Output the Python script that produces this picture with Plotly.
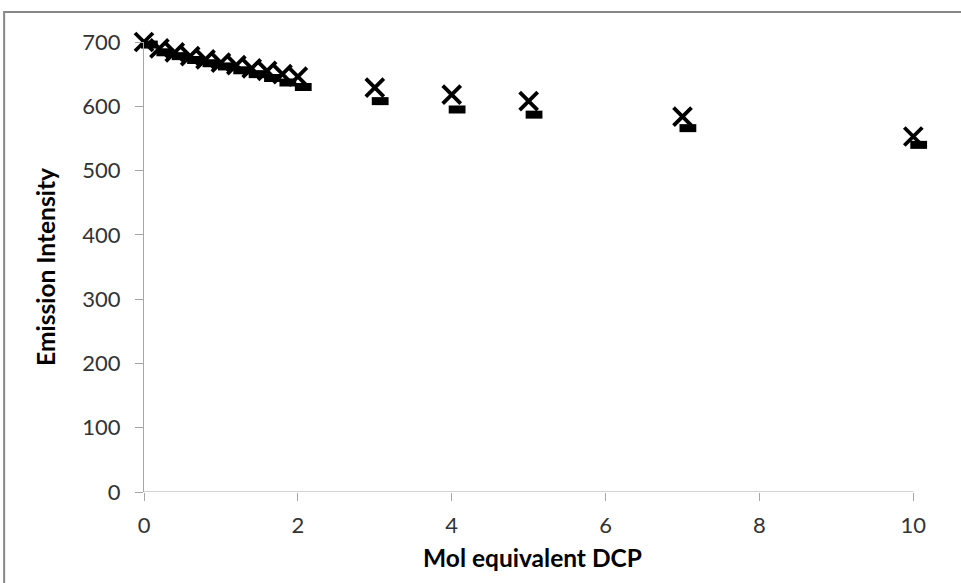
import plotly.graph_objects as go

# Titration: emission intensity vs. mol equivalents of DCP
x_cross = [0, 0.2, 0.4, 0.6, 0.8, 1.0, 1.2, 1.4, 1.6, 1.8, 2.0, 3, 4, 5, 7, 10]
y_cross = [700, 690, 684, 678, 673, 668, 664, 659, 655, 650, 646, 629, 618, 608, 584, 553]

x_dash = [0.07, 0.27, 0.47, 0.67, 0.87, 1.07, 1.27, 1.47, 1.67, 1.87, 2.07, 3.07, 4.07, 5.07, 7.07, 10.07]
y_dash = [696, 684, 678, 672, 667, 662, 656, 650, 644, 637, 630, 608, 595, 587, 566, 540]

x_ticks = [0, 2, 4, 6, 8, 10]
y_ticks = [0, 100, 200, 300, 400, 500, 600, 700]

FONT = "Lato, Calibri, sans-serif"
AXIS_GREY = "#a6a6a6"
X_MAX = 10       # end of the drawn x axis line
X_VIEW = 10.1    # view extends a little past it so the last dash stays visible

fig = go.Figure()
fig.add_trace(go.Scatter(
    x=x_dash, y=y_dash, mode="markers", showlegend=False, cliponaxis=False,
    marker=dict(symbol="line-ew", size=12, color="black",
                line=dict(color="black", width=8)),
))
fig.add_trace(go.Scatter(
    x=x_cross, y=y_cross, mode="markers", showlegend=False, cliponaxis=False,
    marker=dict(symbol="x-thin", size=18, color="black",
                line=dict(color="black", width=3.8)),
))

fig.update_xaxes(
    range=[0, X_VIEW], tickvals=x_ticks, ticktext=[str(v) for v in x_ticks],
    showgrid=False, zeroline=False, showline=False,
    ticks="outside", ticklen=8, tickcolor=AXIS_GREY, tickwidth=1,
    tickfont=dict(family=FONT, size=22, color="#333333"), ticklabelstandoff=6,
    title=dict(text="<b>Mol equivalent DCP</b>", standoff=12,
               font=dict(family=FONT, size=24.5, color="black")),
)
fig.update_yaxes(
    range=[0, 700], tickvals=y_ticks, ticktext=[str(v) for v in y_ticks],
    showgrid=False, zeroline=False, showline=True, linecolor=AXIS_GREY, linewidth=1,
    ticks="outside", ticklen=8, tickcolor=AXIS_GREY, tickwidth=1,
    tickfont=dict(family=FONT, size=22, color="#333333"), ticklabelstandoff=10,
    title=dict(text="<b>Emission Intensity</b>", standoff=19,
               font=dict(family=FONT, size=24.5, color="black")),
)

# x axis line, ending at the last tick
fig.add_shape(type="line", xref="x", yref="y", x0=0, x1=X_MAX, y0=0, y1=0,
              line=dict(color=AXIS_GREY, width=1), layer="below")

# outer chart-area frame
fig.add_shape(type="rect", xref="paper", yref="paper",
              x0=-0.18, x1=1.2, y0=-0.4, y1=1.0667,
              line=dict(color="#878787", width=2), layer="below")

plot_w = 769 * X_VIEW / X_MAX
fig.update_layout(
    width=961, height=583,
    margin=dict(l=144, r=961 - 144 - plot_w, t=42, b=91),
    paper_bgcolor="white", plot_bgcolor="white",
)
fig.write_html("out.html")
